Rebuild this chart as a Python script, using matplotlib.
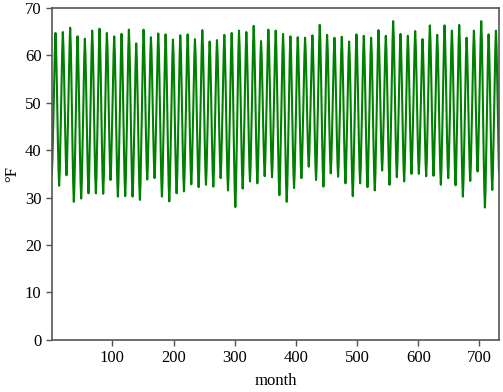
import numpy as np
import matplotlib
matplotlib.use("Agg")
import matplotlib.pyplot as plt

# July (peak) temperature of each year, °F (61 years)
july_peaks = [64.7, 64.9, 65.8, 64.0, 63.5, 65.2, 65.6, 64.7, 64.0, 64.5,
              65.4, 62.5, 65.4, 63.8, 64.6, 64.4, 63.3, 64.2, 64.4, 63.4,
              65.3, 62.9, 63.2, 64.3, 64.7, 65.2, 64.9, 66.2, 63.0, 65.4,
              65.2, 64.5, 64.0, 63.8, 63.7, 64.2, 66.4, 64.3, 63.7, 63.9,
              62.9, 64.4, 64.1, 63.7, 65.3, 64.1, 67.2, 64.5, 64.1, 65.1,
              63.4, 66.3, 64.3, 66.3, 65.2, 66.4, 63.7, 65.2, 67.2, 64.4,
              65.2]
# January (trough) temperature of each year, °F (first year + 60 following, + trailing)
jan_troughs = [35.0,
               32.5, 34.7, 29.1, 29.8, 30.9, 30.9, 30.8, 33.7, 30.2, 30.3,
               30.2, 29.5, 33.8, 34.1, 30.2, 29.2, 30.9, 31.3, 32.8, 32.2,
               32.7, 32.3, 34.1, 31.5, 28.0, 31.9, 33.4, 33.0, 34.5, 34.3,
               30.5, 29.1, 32.0, 34.1, 36.5, 33.7, 32.3, 35.1, 34.4, 33.0,
               30.3, 33.0, 32.2, 31.5, 35.7, 32.7, 34.3, 33.4, 35.0, 35.0,
               34.5, 34.6, 32.7, 34.1, 32.6, 30.2, 33.5, 35.5, 27.9, 31.6,
               32.2]
# seasonal position of each month between January trough (0) and July peak (1)
season_shape = [0.0, 0.1, 0.27, 0.47, 0.68, 0.88, 1.0, 0.9, 0.72, 0.5, 0.28, 0.1]

temps = []
for yr, peak in enumerate(july_peaks):
    for m, f in enumerate(season_shape):
        base = jan_troughs[yr] if m < 6 else jan_troughs[yr + 1]
        temps.append(base + f * (peak - base))
months = np.arange(1, len(temps) + 1)

plt.rcParams['font.family'] = ['Liberation Serif', 'DejaVu Serif']
fig = plt.figure(figsize=(5.03, 3.92), dpi=100)
ax = fig.add_axes([0.103, 0.133, 0.889, 0.847])
ax.plot(months, temps, color='green', lw=1.5)
ax.set_xlim(months[0], months[-1])
ax.set_ylim(0, 70)
ax.set_xticks([100, 200, 300, 400, 500, 600, 700])
ax.set_yticks(range(0, 71, 10))
gc = '#555555'
for s in ax.spines.values():
    s.set_color(gc)
    s.set_linewidth(1.2)
ax.tick_params(colors=gc, labelcolor='black', labelsize=12, length=4, width=1.0)
ax.set_xlabel('month', fontsize=12, labelpad=5)
ax.set_ylabel('°F', fontsize=12, labelpad=3)
fig.savefig('out.png', dpi=100)
